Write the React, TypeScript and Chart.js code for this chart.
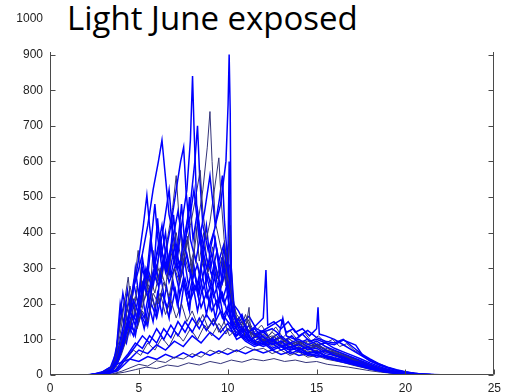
import { useEffect, useRef } from 'react';
import { Chart, registerables } from 'chart.js';

Chart.register(...registerables);

const TITLE = 'Light June exposed';
const X_TICKS = [0, 5, 10, 15, 20, 25];
const Y_TICKS = [0, 100, 200, 300, 400, 500, 600, 700, 800, 900, 1000];

// [hour of day, light level]
const day01 = [[0,0],[2,0],[2.8,3],[3.3,10],[3.6,22],[3.9,60],[4.2,120],[4.5,180],[4.8,140],[5.1,220],[5.4,300],[5.7,250],[6.0,340],[6.3,420],[6.6,300],[6.9,380],[7.2,460],[7.5,360],[7.8,420],[8.1,520],[8.4,380],[8.7,460],[9.0,560],[9.3,420],[9.6,480],[9.9,600],[10.02,760],[10.08,900],[10.14,740],[10.2,300],[10.4,160],[10.7,120],[11.0,140],[11.3,100],[11.7,110],[12.0,90],[12.5,100],[13,80],[13.5,90],[14,70],[14.5,80],[15,60],[15.5,70],[16,55],[16.5,50],[17,40],[17.5,35],[18,25],[18.5,18],[19,12],[19.5,8],[20,5],[20.5,3],[21,1],[22,0],[24,0]];
const day02 = [[0,0],[2.2,0],[3,6],[3.5,18],[3.8,45],[4.1,95],[4.4,150],[4.7,210],[5.0,170],[5.3,260],[5.6,200],[5.9,310],[6.2,380],[6.5,290],[6.8,360],[7.1,300],[7.4,420],[7.7,520],[7.9,660],[8.02,840],[8.1,700],[8.25,480],[8.5,380],[8.8,300],[9.1,340],[9.4,260],[9.7,210],[10.0,260],[10.3,170],[10.6,140],[11,120],[11.5,95],[12,110],[12.5,85],[13,95],[13.5,75],[14,85],[14.5,70],[15,75],[15.5,60],[16,55],[16.5,45],[17,38],[17.5,30],[18,22],[18.5,15],[19,10],[19.5,6],[20,4],[21,1],[22,0],[24,0]];
const day03 = [[0,0],[2.4,0],[3.1,8],[3.6,25],[3.9,70],[4.2,130],[4.5,250],[4.75,190],[5.0,150],[5.3,210],[5.6,280],[5.9,230],[6.2,300],[6.5,250],[6.8,330],[7.1,400],[7.4,320],[7.7,380],[8.0,300],[8.3,420],[8.6,520],[8.85,640],[9.0,740],[9.12,600],[9.3,430],[9.6,360],[9.9,300],[10.2,220],[10.5,170],[10.8,150],[11.1,130],[11.5,110],[12,95],[12.5,120],[13,100],[13.5,85],[14,95],[14.5,80],[15,90],[15.5,70],[16,65],[16.5,55],[17,45],[17.5,35],[18,25],[18.5,18],[19,12],[19.5,7],[20,4],[20.5,2],[21.5,0],[24,0]];
const day04 = [[0,0],[2,0],[2.9,5],[3.4,15],[3.7,40],[4.0,110],[4.3,180],[4.6,230],[4.9,280],[5.2,340],[5.5,420],[5.8,520],[6.1,600],[6.3,660],[6.45,580],[6.7,450],[7.0,380],[7.3,300],[7.6,360],[7.9,280],[8.2,240],[8.5,300],[8.8,220],[9.1,260],[9.4,190],[9.7,230],[10.0,170],[10.3,140],[10.7,120],[11,105],[11.5,90],[12,80],[12.5,90],[13,70],[13.5,80],[14,65],[14.5,60],[15,55],[15.5,50],[16,45],[16.5,40],[17,32],[17.5,25],[18,18],[18.5,12],[19,8],[19.5,5],[20,3],[21,1],[22,0],[24,0]];
const day05 = [[0,0],[2.3,0],[3,4],[3.5,14],[3.8,35],[4.1,80],[4.4,140],[4.7,110],[5.0,190],[5.3,160],[5.6,240],[5.9,300],[6.2,260],[6.5,340],[6.8,420],[7.1,520],[7.35,600],[7.52,640],[7.65,520],[7.9,380],[8.2,320],[8.5,400],[8.8,330],[9.1,280],[9.4,350],[9.7,260],[10.0,320],[10.2,180],[10.5,150],[10.8,170],[11.1,120],[11.5,130],[12,105],[12.5,95],[13,110],[13.5,90],[14,100],[14.5,85],[15,95],[15.5,80],[16,70],[16.5,60],[17,50],[17.5,40],[18,30],[18.5,20],[19,14],[19.5,9],[20,5],[20.5,3],[21.5,1],[22.5,0],[24,0]];
const day06 = [[0,0],[2.5,0],[3.2,7],[3.7,20],[4.0,55],[4.3,100],[4.6,160],[4.9,130],[5.2,180],[5.5,150],[5.8,230],[6.1,200],[6.4,260],[6.7,220],[7.0,300],[7.3,260],[7.6,340],[7.9,420],[8.2,500],[8.45,575],[8.6,460],[8.8,380],[9.0,430],[9.25,520],[9.5,610],[9.62,500],[9.8,380],[10.0,300],[10.15,420],[10.25,230],[10.5,160],[10.8,140],[11.0,170],[11.3,120],[11.7,100],[12,115],[12.5,90],[13,105],[13.5,80],[14,90],[14.5,75],[15,80],[15.5,65],[16,60],[16.5,50],[17,42],[17.5,33],[18,24],[18.5,16],[19,10],[19.5,6],[20,3],[21,1],[22,0],[24,0]];
const day07 = [[0,0],[2.1,0],[2.9,4],[3.4,12],[3.7,30],[4.0,70],[4.3,120],[4.6,170],[4.9,150],[5.2,230],[5.5,300],[5.8,250],[6.1,330],[6.4,420],[6.7,520],[6.85,430],[7.1,320],[7.4,280],[7.7,340],[8.0,270],[8.3,310],[8.6,240],[8.9,280],[9.2,220],[9.5,260],[9.8,200],[10.1,240],[10.3,150],[10.6,120],[11,100],[11.5,85],[12,95],[12.5,75],[13,85],[13.5,70],[14,75],[14.5,60],[15,65],[15.5,55],[16,48],[16.5,42],[17,35],[17.5,28],[18,20],[18.5,14],[19,9],[19.5,6],[20,3],[21,1],[22,0],[24,0]];
const day08 = [[0,0],[2.3,0],[3,5],[3.5,16],[3.8,40],[4.1,90],[4.4,160],[4.7,240],[5.0,330],[5.25,420],[5.45,505],[5.6,420],[5.8,330],[6.1,270],[6.4,330],[6.7,260],[7.0,300],[7.3,230],[7.6,270],[7.9,210],[8.2,250],[8.5,190],[8.8,230],[9.1,180],[9.4,210],[9.7,160],[10.0,190],[10.3,130],[10.7,110],[11,95],[11.5,80],[12,90],[12.5,70],[13,80],[13.5,60],[14,70],[14.5,55],[15,60],[15.5,48],[16,42],[16.5,36],[17,30],[17.5,24],[18,17],[18.5,12],[19,8],[19.5,5],[20,3],[21,1],[22,0],[24,0]];
const day09 = [[0,0],[2.2,0],[2.9,6],[3.4,18],[3.7,45],[4.0,130],[4.2,210],[4.4,275],[4.55,200],[4.75,260],[4.96,350],[5.1,280],[5.3,210],[5.6,250],[5.9,190],[6.2,230],[6.5,170],[6.8,210],[7.1,160],[7.4,200],[7.7,150],[8.0,180],[8.3,140],[8.6,170],[8.9,130],[9.2,160],[9.5,120],[9.8,150],[10.1,110],[10.5,130],[10.9,100],[11.2,190],[11.3,110],[11.7,90],[12,100],[12.5,80],[13,90],[13.5,70],[14,80],[14.5,65],[15,70],[15.5,55],[16,50],[16.5,42],[17,35],[17.5,28],[18,20],[18.5,14],[19,9],[19.5,5],[20,3],[21,1],[22,0],[24,0]];
const day10 = [[0,0],[2.5,0],[3.2,5],[3.7,15],[4.0,35],[4.4,60],[4.8,90],[5.2,75],[5.6,110],[6.0,90],[6.4,130],[6.8,105],[7.2,150],[7.6,120],[8.0,160],[8.4,130],[8.8,170],[9.2,140],[9.6,180],[10.0,150],[10.4,130],[10.8,150],[11.2,120],[11.6,140],[12.0,160],[12.15,295],[12.25,140],[12.6,150],[13.0,130],[13.4,150],[13.8,120],[14.2,130],[14.6,110],[15.0,130],[15.08,190],[15.15,115],[15.5,110],[16,100],[16.5,85],[17,70],[17.5,55],[18,40],[18.5,30],[19,20],[19.5,13],[20,8],[20.5,4],[21,2],[22,0],[24,0]];
const day11 = [[0,0],[2.6,0],[3.3,4],[3.8,12],[4.2,30],[4.6,50],[5.0,70],[5.5,60],[6.0,85],[6.5,70],[7.0,95],[7.5,80],[8.0,110],[8.5,90],[9.0,120],[9.5,100],[10.0,130],[10.5,110],[11.0,130],[11.5,115],[12,125],[12.5,140],[13.0,155],[13.3,120],[13.7,130],[14,110],[14.5,125],[15,105],[15.5,95],[16,90],[16.5,100],[17,80],[17.5,60],[18,45],[18.5,32],[19,22],[19.5,15],[20,9],[20.5,5],[21,2],[22,0],[24,0]];
const day12 = [[0,0],[2.8,0],[3.5,3],[4,10],[4.5,20],[5,30],[5.5,25],[6,40],[6.5,35],[7,50],[7.5,45],[8,60],[8.5,50],[9,70],[9.5,60],[10,75],[10.5,65],[11,80],[11.5,70],[12,75],[12.5,60],[13,70],[13.5,55],[14,65],[14.5,50],[15,55],[15.5,45],[16,40],[16.5,35],[17,28],[17.5,22],[18,16],[18.5,11],[19,7],[19.5,4],[20,2],[21,0],[24,0]];
const day13 = [[0,0],[2.4,0],[3.1,6],[3.6,20],[3.9,50],[4.2,90],[4.5,140],[4.8,120],[5.1,170],[5.4,140],[5.7,200],[6.0,160],[6.3,230],[6.6,190],[6.9,250],[7.2,200],[7.5,270],[7.8,220],[8.1,290],[8.4,230],[8.7,300],[9.0,240],[9.3,310],[9.6,250],[9.9,330],[10.1,380],[10.3,200],[10.6,180],[10.9,150],[11.2,165],[11.6,130],[12,120],[12.5,130],[12.9,115],[13.1,160],[13.3,110],[13.8,100],[14.2,115],[14.6,95],[15,100],[15.5,90],[16,85],[16.5,98],[17.2,84],[17.6,55],[18,40],[18.5,28],[19,20],[19.5,13],[20,8],[20.5,5],[21,2],[22,1],[23.5,0],[24,0]];
const day14 = [[0,0],[2.2,0],[2.9,5],[3.4,15],[3.7,38],[4.0,90],[4.3,160],[4.6,130],[4.9,200],[5.2,260],[5.5,220],[5.8,290],[6.1,250],[6.4,330],[6.7,280],[7.0,360],[7.3,310],[7.6,400],[7.9,480],[8.15,600],[8.3,700],[8.42,560],[8.6,420],[8.9,350],[9.2,400],[9.5,320],[9.8,370],[10.0,280],[10.08,600],[10.15,250],[10.4,170],[10.7,130],[11,110],[11.5,95],[12,85],[12.5,95],[13,80],[13.5,70],[14,78],[14.5,62],[15,68],[15.5,52],[16,46],[16.5,40],[17,32],[17.5,26],[18,19],[18.5,13],[19,9],[19.5,5],[20,3],[21,1],[22,0],[24,0]];
const day15 = [[0,0],[2.4,0],[3.1,5],[3.6,16],[3.9,45],[4.2,100],[4.5,170],[4.8,220],[5.1,190],[5.4,270],[5.7,230],[6.0,310],[6.3,270],[6.6,380],[6.9,470],[7.1,560],[7.25,450],[7.5,350],[7.8,290],[8.1,350],[8.4,280],[8.7,330],[9.0,260],[9.3,310],[9.6,240],[9.9,290],[10.2,200],[10.5,150],[10.8,130],[11.1,150],[11.5,110],[12,100],[12.5,110],[13,90],[13.5,100],[14,85],[14.5,95],[15,80],[15.5,75],[16,68],[16.5,58],[17,48],[17.5,38],[18,28],[18.5,20],[19,13],[19.5,8],[20,5],[20.5,3],[21.5,1],[23,0],[24,0]];
const day16 = [[0,0],[2.6,0],[3.2,4],[3.7,12],[4.0,28],[4.4,55],[4.8,80],[5.2,110],[5.6,90],[6.0,130],[6.4,100],[6.8,140],[7.2,110],[7.6,150],[8.0,120],[8.4,160],[8.8,125],[9.2,155],[9.6,120],[10.0,145],[10.4,110],[10.8,125],[11.2,95],[11.6,110],[12,90],[12.5,100],[13,80],[13.5,90],[14,70],[14.5,80],[15,62],[15.5,68],[16,55],[16.5,48],[17,40],[17.5,32],[18,24],[18.5,17],[19,11],[19.5,7],[20,4],[20.5,2],[21.5,0],[24,0]];
const day17 = [[0,0],[2.3,0],[3,5],[3.5,20],[3.75,80],[3.95,200],[4.15,140],[4.35,240],[4.55,180],[4.8,300],[5.0,220],[5.2,330],[5.4,260],[5.65,380],[5.85,300],[6.05,440],[6.25,330],[6.5,400],[6.7,290],[6.95,450],[7.15,340],[7.4,480],[7.6,360],[7.85,500],[8.05,380],[8.3,460],[8.55,330],[8.8,420],[9.05,300],[9.3,380],[9.55,280],[9.8,360],[10.0,240],[10.2,130],[10.5,100],[11,115],[11.5,90],[12,100],[12.5,85],[13,95],[13.5,78],[14,88],[14.5,72],[15,80],[15.5,65],[16,58],[16.5,50],[17,42],[17.5,33],[18,25],[18.5,17],[19,11],[19.5,7],[20,4],[21,1],[22,0],[24,0]];
const day18 = [[0,0],[2.5,0],[3.2,8],[3.6,30],[3.85,110],[4.05,170],[4.3,120],[4.5,210],[4.7,160],[4.9,250],[5.15,190],[5.35,290],[5.6,210],[5.8,350],[6.0,260],[6.2,400],[6.4,310],[6.6,270],[6.85,380],[7.05,300],[7.3,420],[7.5,310],[7.75,390],[8.0,280],[8.2,430],[8.4,320],[8.65,400],[8.9,290],[9.15,360],[9.4,270],[9.65,330],[9.9,250],[10.1,310],[10.3,160],[10.6,120],[11,140],[11.4,105],[11.8,120],[12.2,95],[12.6,110],[13,90],[13.4,105],[13.8,85],[14.3,95],[14.8,80],[15.3,88],[15.8,70],[16.3,62],[16.8,52],[17.3,42],[17.8,33],[18.3,24],[18.8,16],[19.3,10],[19.8,6],[20.3,3],[21,1],[22,0],[24,0]];
const day19 = [[0,0],[2.4,0],[3.1,6],[3.6,25],[3.9,70],[4.1,120],[4.3,90],[4.55,150],[4.8,110],[5.05,180],[5.3,130],[5.55,200],[5.8,150],[6.05,230],[6.3,170],[6.55,250],[6.8,180],[7.05,240],[7.3,170],[7.55,260],[7.8,190],[8.05,250],[8.3,180],[8.55,240],[8.8,170],[9.05,230],[9.3,160],[9.55,220],[9.8,150],[10.05,200],[10.3,140],[10.6,160],[10.9,120],[11.2,140],[11.6,110],[12,125],[12.4,100],[12.8,115],[13.2,95],[13.6,110],[14,90],[14.5,100],[15,85],[15.5,90],[16,75],[16.5,65],[17,55],[17.5,45],[18,34],[18.5,24],[19,16],[19.5,10],[20,6],[20.5,3],[21.5,1],[23,0],[24,0]];
const day20 = [[0,0],[2.6,0],[3.3,10],[3.7,45],[3.9,150],[4.1,230],[4.3,170],[4.5,120],[4.7,200],[4.9,150],[5.1,260],[5.3,190],[5.5,140],[5.75,220],[6.0,170],[6.2,290],[6.45,210],[6.7,160],[6.9,270],[7.15,200],[7.4,330],[7.6,240],[7.85,180],[8.1,300],[8.35,220],[8.6,350],[8.8,250],[9.0,190],[9.25,280],[9.5,200],[9.75,320],[10.0,220],[10.25,140],[10.5,110],[10.9,130],[11.3,100],[11.7,115],[12.1,90],[12.5,105],[12.9,85],[13.3,100],[13.7,80],[14.1,92],[14.6,75],[15.1,85],[15.6,68],[16.1,60],[16.6,52],[17.1,44],[17.6,35],[18.1,26],[18.6,18],[19.1,12],[19.6,7],[20.1,4],[20.6,2],[21.5,0],[24,0]];
const day21 = [[0,0],[2.7,0],[3.4,5],[3.9,20],[4.3,45],[4.7,70],[5.1,55],[5.5,90],[5.9,70],[6.3,105],[6.7,80],[7.1,120],[7.5,95],[7.9,130],[8.3,100],[8.7,140],[9.1,110],[9.5,145],[9.9,115],[10.3,150],[10.7,125],[11.1,160],[11.5,120],[11.9,140],[12.3,110],[12.7,135],[13.1,105],[13.5,125],[13.9,100],[14.3,120],[14.7,95],[15.1,110],[15.5,90],[15.9,100],[16.3,80],[16.7,88],[17.1,70],[17.5,58],[18,44],[18.5,32],[19,22],[19.5,14],[20,9],[20.5,5],[21,3],[21.5,1],[22.5,0],[24,0]];
const day22 = [[0,0],[2.3,0],[3,10],[3.5,25],[4,35],[4.5,45],[5,38],[5.5,52],[6,44],[6.5,58],[7,48],[7.5,62],[8,50],[8.5,65],[9,55],[9.5,68],[10,58],[10.5,70],[11,60],[11.5,72],[12,62],[12.5,70],[13,58],[13.5,66],[14,55],[14.5,60],[15,50],[15.5,54],[16,45],[16.5,40],[17,34],[17.5,27],[18,20],[18.5,14],[19,10],[19.5,6],[20,4],[20.5,2],[21.5,1],[23.5,0],[24,0]];
const day23 = [[0,0],[2.2,0],[2.9,7],[3.4,22],[3.7,60],[3.95,150],[4.2,210],[4.45,170],[4.7,260],[4.95,200],[5.2,300],[5.45,250],[5.7,380],[5.9,480],[6.05,390],[6.3,300],[6.55,360],[6.8,280],[7.05,340],[7.3,260],[7.55,330],[7.8,250],[8.05,320],[8.3,240],[8.55,330],[8.8,270],[9.05,360],[9.3,420],[9.55,500],[9.7,560],[9.82,430],[10.0,320],[10.2,200],[10.5,140],[10.8,160],[11.1,125],[11.5,110],[12,120],[12.5,95],[13,105],[13.5,85],[14,95],[14.5,80],[15,85],[15.5,70],[16,62],[16.5,54],[17,45],[17.5,36],[18,27],[18.5,19],[19,12],[19.5,8],[20,5],[20.5,3],[21.5,1],[22.5,0],[24,0]];
const day24 = [[0,0],[3,0],[3.6,3],[4.2,8],[4.8,15],[5.4,22],[6,18],[6.6,28],[7.2,24],[7.8,34],[8.4,28],[9,38],[9.6,32],[10.2,42],[10.8,36],[11.4,45],[12,40],[12.6,46],[13.2,38],[13.8,42],[14.4,35],[15,38],[15.6,30],[16.2,26],[16.8,22],[17.4,17],[18,12],[18.6,8],[19.2,5],[19.8,3],[20.4,1],[21,0],[24,0]];

const DAYS = [day01, day02, day03, day04, day05, day06, day07, day08, day09, day10, day11, day12, day13, day14, day15, day16, day17, day18, day19, day20, day21, day22, day23, day24];

const BLUE = '#0000ff';
const NAVY = '#34347a';

const boxPlugin = {
  id: 'matlabBox',
  afterDatasetsDraw(chart: any) {
    const { ctx, chartArea: a, scales } = chart;
    const L = Math.round(a.left) + 0.5;
    const R = Math.round(a.right) - 0.5;
    const T = Math.round(a.top) + 0.5;
    const B = Math.round(a.bottom) - 0.5;
    ctx.save();
    ctx.strokeStyle = '#4a4a4a';
    ctx.lineWidth = 1;
    ctx.beginPath();
    ctx.moveTo(L, T); ctx.lineTo(L, B); ctx.lineTo(R, B); ctx.lineTo(R, T); ctx.lineTo(L, T);
    scales.y.ticks.forEach((t: any) => {
      const py = Math.round(scales.y.getPixelForValue(t.value)) + 0.5;
      ctx.moveTo(L, py); ctx.lineTo(L + 5, py);
      ctx.moveTo(R, py); ctx.lineTo(R - 5, py);
    });
    scales.x.ticks.forEach((t: any) => {
      const px = Math.round(scales.x.getPixelForValue(t.value)) + 0.5;
      ctx.moveTo(px, B); ctx.lineTo(px, B - 5);
      ctx.moveTo(px, T); ctx.lineTo(px, T + 5);
    });
    ctx.stroke();
    ctx.restore();
  },
};

export default function App() {
  const ref = useRef<HTMLCanvasElement | null>(null);
  useEffect(() => {
    if (!ref.current) return;
    const chart = new Chart(ref.current, {
      type: 'line',
      data: {
        datasets: DAYS.map((d, i) => ({
          label: 'day ' + (i + 1),
          data: d.map(([x, y]) => ({ x, y })),
          borderColor: i % 3 === 2 ? NAVY : BLUE,
          borderWidth: i % 3 === 2 ? 1 : 1.5,
          pointRadius: 0,
          fill: false,
          tension: 0,
        })),
      },
      plugins: [boxPlugin],
      options: {
        animation: false,
        responsive: false,
        maintainAspectRatio: false,
        layout: { autoPadding: false, padding: { top: 19, right: 3, left: 0, bottom: 0 } },
        plugins: { legend: { display: false }, tooltip: { enabled: false }, title: { display: false } },
        scales: {
          x: {
            type: 'linear',
            min: 0,
            max: 25,
            afterBuildTicks: (s: any) => { s.ticks = X_TICKS.map((v) => ({ value: v })); },
            afterFit: (s: any) => { s.height = 17; },
            grid: { display: false, drawTicks: false },
            border: { display: false },
            ticks: { color: '#222', padding: 6, font: { family: 'Liberation Sans', size: 12 }, maxRotation: 0, autoSkip: false, callback: (v: any) => String(v) },
          },
          y: {
            type: 'linear',
            min: 0,
            max: 1000,
            afterBuildTicks: (s: any) => { s.ticks = Y_TICKS.map((v) => ({ value: v })); },
            afterFit: (s: any) => { s.width = 50; },
            grid: { display: false, drawTicks: false },
            border: { display: false },
            ticks: { color: '#222', padding: 7, font: { family: 'Liberation Sans', size: 12 }, autoSkip: false, callback: (v: any) => String(v) },
          },
        },
      },
    });
    return () => chart.destroy();
  }, []);

  return (
    <div style={{ position: 'absolute', left: 0, top: 0, width: 507, height: 392, background: '#fff', overflow: 'hidden' }}>
      <canvas ref={ref} width={507} height={392} style={{ position: 'absolute', left: 0, top: 0, width: 507, height: 392 }} />
      <div style={{ position: 'absolute', left: 46, top: 0, width: 461, height: 52, background: '#fff' }} />
      <div style={{ position: 'absolute', left: 67, top: -4, fontFamily: '"Open Sans", "Noto Sans", sans-serif', fontSize: 33, lineHeight: '44px', color: '#000', whiteSpace: 'nowrap' }}>{TITLE}</div>
    </div>
  );
}
